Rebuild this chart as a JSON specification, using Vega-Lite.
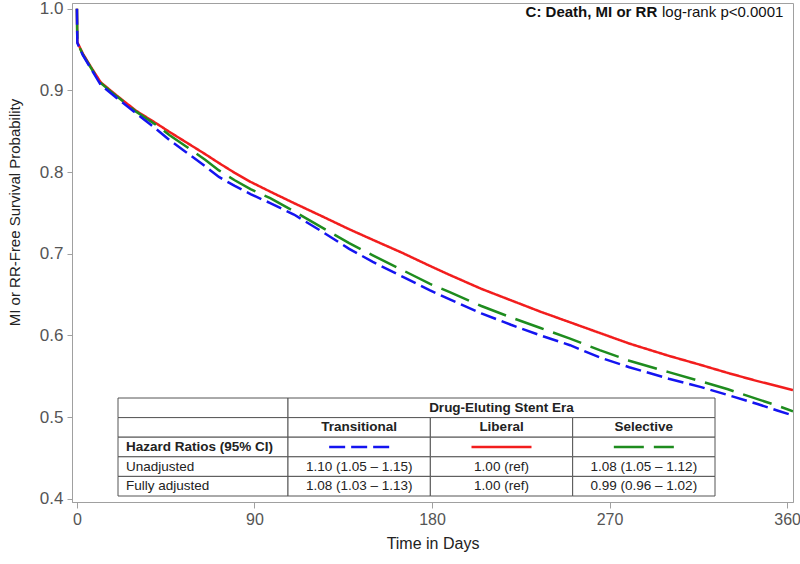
{
  "$schema": "https://vega.github.io/schema/vega-lite/v6.json",
  "width": 721,
  "height": 499,
  "autosize": {"type": "none"},
  "padding": {"left": 72, "top": 3, "right": 7, "bottom": 62},
  "background": "white",
  "config": {
    "font": "Liberation Sans",
    "view": {"stroke": "#a0a0a0", "strokeWidth": 1},
    "axis": {"grid": false, "domainColor": "#a0a0a0", "tickColor": "#a0a0a0", "labelColor": "#555555", "labelFont": "Liberation Sans", "titleFont": "Liberation Sans", "titleFontWeight": "normal", "titleColor": "#222222"}
  },
  "datasets": {
    "km": [
      {"era": "Liberal", "day": 0, "surv": 1.0}, {"era": "Liberal", "day": 0.2, "surv": 0.959}, {"era": "Liberal", "day": 3, "surv": 0.945}, {"era": "Liberal", "day": 7, "surv": 0.929}, {"era": "Liberal", "day": 12, "surv": 0.91}, {"era": "Liberal", "day": 20, "surv": 0.894}, {"era": "Liberal", "day": 30, "surv": 0.875}, {"era": "Liberal", "day": 40, "surv": 0.86}, {"era": "Liberal", "day": 47, "surv": 0.849}, {"era": "Liberal", "day": 55, "surv": 0.837}, {"era": "Liberal", "day": 65, "surv": 0.822}, {"era": "Liberal", "day": 72, "surv": 0.811}, {"era": "Liberal", "day": 80, "surv": 0.799}, {"era": "Liberal", "day": 88, "surv": 0.788}, {"era": "Liberal", "day": 98, "surv": 0.776}, {"era": "Liberal", "day": 110, "surv": 0.762}, {"era": "Liberal", "day": 125, "surv": 0.745}, {"era": "Liberal", "day": 138, "surv": 0.73}, {"era": "Liberal", "day": 150, "surv": 0.717}, {"era": "Liberal", "day": 165, "surv": 0.701}, {"era": "Liberal", "day": 179, "surv": 0.685}, {"era": "Liberal", "day": 189, "surv": 0.674}, {"era": "Liberal", "day": 205, "surv": 0.657}, {"era": "Liberal", "day": 220, "surv": 0.643}, {"era": "Liberal", "day": 235, "surv": 0.629}, {"era": "Liberal", "day": 250, "surv": 0.616}, {"era": "Liberal", "day": 265, "surv": 0.603}, {"era": "Liberal", "day": 280, "surv": 0.59}, {"era": "Liberal", "day": 300, "surv": 0.575}, {"era": "Liberal", "day": 316, "surv": 0.564}, {"era": "Liberal", "day": 330, "surv": 0.554}, {"era": "Liberal", "day": 345, "surv": 0.544}, {"era": "Liberal", "day": 355, "surv": 0.538}, {"era": "Liberal", "day": 363, "surv": 0.533},
      {"era": "Selective", "day": 0, "surv": 1.0}, {"era": "Selective", "day": 0.2, "surv": 0.958}, {"era": "Selective", "day": 3, "surv": 0.944}, {"era": "Selective", "day": 7, "surv": 0.928}, {"era": "Selective", "day": 12, "surv": 0.909}, {"era": "Selective", "day": 20, "surv": 0.893}, {"era": "Selective", "day": 30, "surv": 0.874}, {"era": "Selective", "day": 40, "surv": 0.858}, {"era": "Selective", "day": 47, "surv": 0.845}, {"era": "Selective", "day": 55, "surv": 0.832}, {"era": "Selective", "day": 65, "surv": 0.815}, {"era": "Selective", "day": 72, "surv": 0.802}, {"era": "Selective", "day": 80, "surv": 0.79}, {"era": "Selective", "day": 88, "surv": 0.779}, {"era": "Selective", "day": 98, "surv": 0.768}, {"era": "Selective", "day": 110, "surv": 0.752}, {"era": "Selective", "day": 125, "surv": 0.731}, {"era": "Selective", "day": 138, "surv": 0.713}, {"era": "Selective", "day": 150, "surv": 0.698}, {"era": "Selective", "day": 165, "surv": 0.68}, {"era": "Selective", "day": 179, "surv": 0.663}, {"era": "Selective", "day": 189, "surv": 0.653}, {"era": "Selective", "day": 205, "surv": 0.636}, {"era": "Selective", "day": 220, "surv": 0.622}, {"era": "Selective", "day": 235, "surv": 0.609}, {"era": "Selective", "day": 250, "surv": 0.596}, {"era": "Selective", "day": 265, "surv": 0.582}, {"era": "Selective", "day": 280, "surv": 0.569}, {"era": "Selective", "day": 300, "surv": 0.555}, {"era": "Selective", "day": 316, "surv": 0.544}, {"era": "Selective", "day": 330, "surv": 0.534}, {"era": "Selective", "day": 345, "surv": 0.522}, {"era": "Selective", "day": 355, "surv": 0.514}, {"era": "Selective", "day": 363, "surv": 0.507},
      {"era": "Transitional", "day": 0, "surv": 1.0}, {"era": "Transitional", "day": 0.2, "surv": 0.958}, {"era": "Transitional", "day": 3, "surv": 0.943}, {"era": "Transitional", "day": 7, "surv": 0.927}, {"era": "Transitional", "day": 12, "surv": 0.907}, {"era": "Transitional", "day": 20, "surv": 0.891}, {"era": "Transitional", "day": 30, "surv": 0.872}, {"era": "Transitional", "day": 40, "surv": 0.853}, {"era": "Transitional", "day": 47, "surv": 0.839}, {"era": "Transitional", "day": 55, "surv": 0.825}, {"era": "Transitional", "day": 65, "surv": 0.807}, {"era": "Transitional", "day": 72, "surv": 0.794}, {"era": "Transitional", "day": 80, "surv": 0.783}, {"era": "Transitional", "day": 88, "surv": 0.773}, {"era": "Transitional", "day": 98, "surv": 0.762}, {"era": "Transitional", "day": 110, "surv": 0.748}, {"era": "Transitional", "day": 125, "surv": 0.726}, {"era": "Transitional", "day": 138, "surv": 0.706}, {"era": "Transitional", "day": 150, "surv": 0.69}, {"era": "Transitional", "day": 165, "surv": 0.672}, {"era": "Transitional", "day": 179, "surv": 0.655}, {"era": "Transitional", "day": 189, "surv": 0.644}, {"era": "Transitional", "day": 205, "surv": 0.627}, {"era": "Transitional", "day": 220, "surv": 0.613}, {"era": "Transitional", "day": 235, "surv": 0.6}, {"era": "Transitional", "day": 250, "surv": 0.588}, {"era": "Transitional", "day": 265, "surv": 0.573}, {"era": "Transitional", "day": 280, "surv": 0.561}, {"era": "Transitional", "day": 300, "surv": 0.547}, {"era": "Transitional", "day": 316, "surv": 0.537}, {"era": "Transitional", "day": 330, "surv": 0.527}, {"era": "Transitional", "day": 345, "surv": 0.516}, {"era": "Transitional", "day": 355, "surv": 0.508}, {"era": "Transitional", "day": 363, "surv": 0.502}
    ],
    "labelCells": [
      {"col": "label", "row": "header"}, {"col": "label", "row": "era"}, {"col": "label", "row": "hr"}, {"col": "label", "row": "unadj"}, {"col": "label", "row": "adj"}
    ],
    "labelText": [
      {"col": "label", "row": "hr", "text": "Hazard Ratios (95% CI)"},
      {"col": "label", "row": "unadj", "text": "Unadjusted"},
      {"col": "label", "row": "adj", "text": "Fully adjusted"}
    ],
    "header": [{"span": "Drug-Eluting Stent Era", "row": "header"}],
    "eraCells": [
      {"col": "Transitional", "row": "era"}, {"col": "Liberal", "row": "era"}, {"col": "Selective", "row": "era"},
      {"col": "Transitional", "row": "hr"}, {"col": "Liberal", "row": "hr"}, {"col": "Selective", "row": "hr"},
      {"col": "Transitional", "row": "unadj"}, {"col": "Liberal", "row": "unadj"}, {"col": "Selective", "row": "unadj"},
      {"col": "Transitional", "row": "adj"}, {"col": "Liberal", "row": "adj"}, {"col": "Selective", "row": "adj"}
    ],
    "eraText": [
      {"col": "Transitional", "row": "era", "text": "Transitional"},
      {"col": "Liberal", "row": "era", "text": "Liberal"},
      {"col": "Selective", "row": "era", "text": "Selective"},
      {"col": "Transitional", "row": "unadj", "text": "1.10 (1.05 – 1.15)"},
      {"col": "Liberal", "row": "unadj", "text": "1.00 (ref)"},
      {"col": "Selective", "row": "unadj", "text": "1.08 (1.05 – 1.12)"},
      {"col": "Transitional", "row": "adj", "text": "1.08 (1.03 – 1.13)"},
      {"col": "Liberal", "row": "adj", "text": "1.00 (ref)"},
      {"col": "Selective", "row": "adj", "text": "0.99 (0.96 – 1.02)"}
    ],
    "samples": [
      {"era": "Transitional", "row": "hr", "end": "a"}, {"era": "Transitional", "row": "hr", "end": "b"},
      {"era": "Liberal", "row": "hr", "end": "a"}, {"era": "Liberal", "row": "hr", "end": "b"},
      {"era": "Selective", "row": "hr", "end": "a"}, {"era": "Selective", "row": "hr", "end": "b"}
    ],
    "titleParts": [
      {"part": "bold", "label": "C: Death, MI or RR"},
      {"part": "normal", "label": "log-rank p<0.0001"}
    ]
  },
  "layer": [
    {
      "layer": [
        {
          "data": {"name": "km"},
          "mark": {"type": "line", "strokeWidth": 2.5, "clip": true, "interpolate": "linear"},
          "encoding": {
            "x": {"field": "day", "type": "quantitative", "scale": {"domain": [-2.5, 363], "nice": false, "zero": false},
              "axis": {"values": [0, 90, 180, 270, 360], "labelFontSize": 16, "tickSize": 6, "labelPadding": 3, "title": "Time in Days", "titleFontSize": 16, "titlePadding": 8}},
            "y": {"field": "surv", "type": "quantitative", "scale": {"domain": [0.396, 1.007], "nice": false, "zero": false},
              "axis": {"values": [0.4, 0.5, 0.6, 0.7, 0.8, 0.9, 1.0], "format": ".1f", "labelFontSize": 17, "tickSize": 5, "labelPadding": 4, "title": "MI or RR-Free Survival Probability", "titleFontSize": 15, "titleX": -58, "titleY": 209, "titleAngle": 270, "titleAlign": "center", "titleBaseline": "middle"}},
            "color": {"field": "era", "type": "nominal", "scale": {"domain": ["Transitional", "Liberal", "Selective"], "range": ["#1414f0", "#f21d1d", "#1e8c1e"]}, "legend": null},
            "strokeDash": {"field": "era", "type": "nominal", "scale": {"domain": ["Transitional", "Liberal", "Selective"], "range": [[16, 6], [1, 0], [30, 10]]}, "legend": null}
          }
        },
        {
          "data": {"name": "titleParts"},
          "transform": [{"filter": "datum.part === 'bold'"}],
          "mark": {"type": "text", "align": "right", "baseline": "middle", "fontSize": 15, "fontWeight": "bold", "color": "#111111"},
          "encoding": {
            "x": {"datum": 294.2, "type": "quantitative"},
            "y": {"datum": 0.996, "type": "quantitative"},
            "text": {"field": "label"}
          }
        },
        {
          "data": {"name": "titleParts"},
          "transform": [{"filter": "datum.part === 'normal'"}],
          "mark": {"type": "text", "align": "left", "baseline": "middle", "fontSize": 15, "color": "#111111"},
          "encoding": {
            "x": {"datum": 296.6, "type": "quantitative"},
            "y": {"datum": 0.996, "type": "quantitative"},
            "text": {"field": "label"}
          }
        }
      ]
    },
    {
      "layer": [
        {
          "data": {"name": "labelCells"},
          "mark": {"type": "rect", "fill": "white", "stroke": "#555555", "strokeWidth": 1},
          "encoding": {
            "x": {"field": "col", "type": "nominal", "scale": {"type": "band", "domain": ["label"], "range": [46, 216], "paddingInner": 0, "paddingOuter": 0}, "axis": null},
            "y": {"field": "row", "type": "nominal", "scale": {"type": "band", "domain": ["header", "era", "hr", "unadj", "adj"], "range": [395, 493], "paddingInner": 0, "paddingOuter": 0}, "axis": null}
          }
        },
        {
          "data": {"name": "labelText"},
          "transform": [{"filter": "datum.row === 'hr'"}],
          "mark": {"type": "text", "align": "left", "baseline": "middle", "dx": 8, "fontSize": 13.5, "fontWeight": "bold", "color": "#222222"},
          "encoding": {
            "x": {"field": "col", "type": "nominal", "bandPosition": 0, "scale": {"type": "band", "domain": ["label"], "range": [46, 216], "paddingInner": 0, "paddingOuter": 0}, "axis": null},
            "y": {"field": "row", "type": "nominal", "scale": {"type": "band", "domain": ["header", "era", "hr", "unadj", "adj"], "range": [395, 493], "paddingInner": 0, "paddingOuter": 0}, "axis": null},
            "text": {"field": "text"}
          }
        },
        {
          "data": {"name": "labelText"},
          "transform": [{"filter": "datum.row !== 'hr'"}],
          "mark": {"type": "text", "align": "left", "baseline": "middle", "dx": 8, "fontSize": 13.5, "color": "#222222"},
          "encoding": {
            "x": {"field": "col", "type": "nominal", "bandPosition": 0, "scale": {"type": "band", "domain": ["label"], "range": [46, 216], "paddingInner": 0, "paddingOuter": 0}, "axis": null},
            "y": {"field": "row", "type": "nominal", "scale": {"type": "band", "domain": ["header", "era", "hr", "unadj", "adj"], "range": [395, 493], "paddingInner": 0, "paddingOuter": 0}, "axis": null},
            "text": {"field": "text"}
          }
        }
      ]
    },
    {
      "layer": [
        {
          "data": {"name": "header"},
          "mark": {"type": "rect", "fill": "white", "stroke": "#555555", "strokeWidth": 1},
          "encoding": {
            "x": {"field": "span", "type": "nominal", "scale": {"type": "band", "domain": ["Drug-Eluting Stent Era"], "range": [216, 643], "paddingInner": 0, "paddingOuter": 0}, "axis": null},
            "y": {"field": "row", "type": "nominal", "scale": {"type": "band", "domain": ["header", "era", "hr", "unadj", "adj"], "range": [395, 493], "paddingInner": 0, "paddingOuter": 0}, "axis": null}
          }
        },
        {
          "data": {"name": "header"},
          "mark": {"type": "text", "align": "center", "baseline": "middle", "fontSize": 13.5, "fontWeight": "bold", "color": "#222222"},
          "encoding": {
            "x": {"field": "span", "type": "nominal", "scale": {"type": "band", "domain": ["Drug-Eluting Stent Era"], "range": [216, 643], "paddingInner": 0, "paddingOuter": 0}, "axis": null},
            "y": {"field": "row", "type": "nominal", "scale": {"type": "band", "domain": ["header", "era", "hr", "unadj", "adj"], "range": [395, 493], "paddingInner": 0, "paddingOuter": 0}, "axis": null},
            "text": {"field": "span"}
          }
        }
      ]
    },
    {
      "layer": [
        {
          "data": {"name": "eraCells"},
          "mark": {"type": "rect", "fill": "white", "stroke": "#555555", "strokeWidth": 1},
          "encoding": {
            "x": {"field": "col", "type": "nominal", "scale": {"type": "band", "domain": ["Transitional", "Liberal", "Selective"], "range": [216, 643], "paddingInner": 0, "paddingOuter": 0}, "axis": null},
            "y": {"field": "row", "type": "nominal", "scale": {"type": "band", "domain": ["header", "era", "hr", "unadj", "adj"], "range": [395, 493], "paddingInner": 0, "paddingOuter": 0}, "axis": null}
          }
        },
        {
          "data": {"name": "eraText"},
          "transform": [{"filter": "datum.row === 'era'"}],
          "mark": {"type": "text", "align": "center", "baseline": "middle", "fontSize": 13.5, "fontWeight": "bold", "color": "#222222"},
          "encoding": {
            "x": {"field": "col", "type": "nominal", "scale": {"type": "band", "domain": ["Transitional", "Liberal", "Selective"], "range": [216, 643], "paddingInner": 0, "paddingOuter": 0}, "axis": null},
            "y": {"field": "row", "type": "nominal", "scale": {"type": "band", "domain": ["header", "era", "hr", "unadj", "adj"], "range": [395, 493], "paddingInner": 0, "paddingOuter": 0}, "axis": null},
            "text": {"field": "text"}
          }
        },
        {
          "data": {"name": "eraText"},
          "transform": [{"filter": "datum.row !== 'era'"}],
          "mark": {"type": "text", "align": "center", "baseline": "middle", "fontSize": 13.5, "color": "#222222"},
          "encoding": {
            "x": {"field": "col", "type": "nominal", "scale": {"type": "band", "domain": ["Transitional", "Liberal", "Selective"], "range": [216, 643], "paddingInner": 0, "paddingOuter": 0}, "axis": null},
            "y": {"field": "row", "type": "nominal", "scale": {"type": "band", "domain": ["header", "era", "hr", "unadj", "adj"], "range": [395, 493], "paddingInner": 0, "paddingOuter": 0}, "axis": null},
            "text": {"field": "text"}
          }
        }
      ]
    },
    {
      "data": {"name": "samples"},
      "mark": {"type": "line", "strokeWidth": 2.5},
      "encoding": {
        "x": {"field": "era", "type": "nominal", "scale": {"type": "band", "domain": ["Transitional", "Liberal", "Selective"], "range": [216, 643], "paddingInner": 0, "paddingOuter": 0}, "axis": null},
        "xOffset": {"field": "end", "type": "nominal", "scale": {"type": "point", "domain": ["a", "b"], "padding": 0.686}},
        "y": {"field": "row", "type": "nominal", "scale": {"type": "band", "domain": ["header", "era", "hr", "unadj", "adj"], "range": [395, 493], "paddingInner": 0, "paddingOuter": 0}, "axis": null},
        "color": {"field": "era", "type": "nominal", "legend": null},
        "strokeDash": {"field": "era", "type": "nominal", "legend": null},
        "detail": {"field": "era"}
      }
    }
  ],
  "resolve": {"scale": {"x": "independent", "y": "independent", "xOffset": "independent"}}
}
